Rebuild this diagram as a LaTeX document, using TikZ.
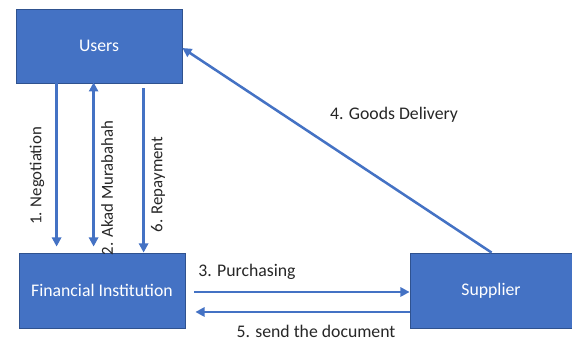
\documentclass[tikz,border=0pt]{standalone}
\usepackage{fontspec}
\setmainfont{Carlito}
\usetikzlibrary{arrows.meta,calc}
\definecolor{boxblue}{HTML}{4472C4}
\definecolor{boxline}{HTML}{2F528F}
\definecolor{txtgray}{HTML}{262626}
\tikzset{
  party/.style={draw=boxline, fill=boxblue, line width=0.6pt, rectangle, align=center, text=white, font=\fontsize{13.3}{16}\selectfont},
  arr/.style={-{Triangle[length=2.4mm,width=2.4mm]}, draw=boxblue, line width=1.9pt},
  darr/.style={{Triangle[length=2.4mm,width=2.4mm]}-{Triangle[length=2.4mm,width=2.4mm]}, draw=boxblue, line width=1.9pt},
  lbl/.style={text=txtgray, font=\fontsize{13.3}{16}\selectfont, inner sep=0pt},
  vlbl/.style={lbl, rotate=90, font=\fontsize{12.6}{15}\selectfont},
}

\begin{document}
\begin{tikzpicture}[x=0.75pt,y=-0.75pt]
\useasboundingbox (0,0) rectangle (572,341);

\node[party, minimum width=124.5pt, minimum height=55.5pt] (users) at (99,46) {Users};
\node[party, minimum width=124.5pt, minimum height=56.25pt] (fi) at (102,290.5) {Financial Institution};
\node[party, minimum width=121.5pt, minimum height=56.25pt] (supp) at (491,290.5) {Supplier};

% users <-> financial institution
\draw[arr] ($(users.south west)+(41,0)$) -- ($(fi.north west)+(38,-6)$);
\draw[darr] ($(users.south west)+(78,-1)$) -- ($(fi.north west)+(75,-6)$);
\draw[arr] ($(users.south west)+(128,5)$) -- ($(fi.north west)+(125,0)$);

\node[vlbl] (negl) at (37,176) {1. Negotiation};
\node[vlbl] (akadl) at (107,188) {2. Akad Murabahah};
\node[vlbl] (repl) at (158,184.5) {6. Repayment};

% financial institution <-> supplier
\draw[arr] ($(fi.east)+(9,1.5)$) -- ($(supp.west)+(0,1.5)$);
\draw[arr] ($(supp.west)+(0,21.5)$) -- ($(fi.east)+(10,21.5)$);
\node[lbl] (purl) at (247,272) {3. Purchasing};
\node[lbl] (docl) at (316,331) {5. send the document};

% supplier -> users
\draw[arr] ($(supp.north west)+(82,0)$) -- ($(users.east)+(0,2)$);
\node[lbl] (goodl) at (394,115) {4. Goods Delivery};

\end{tikzpicture}
\end{document}
